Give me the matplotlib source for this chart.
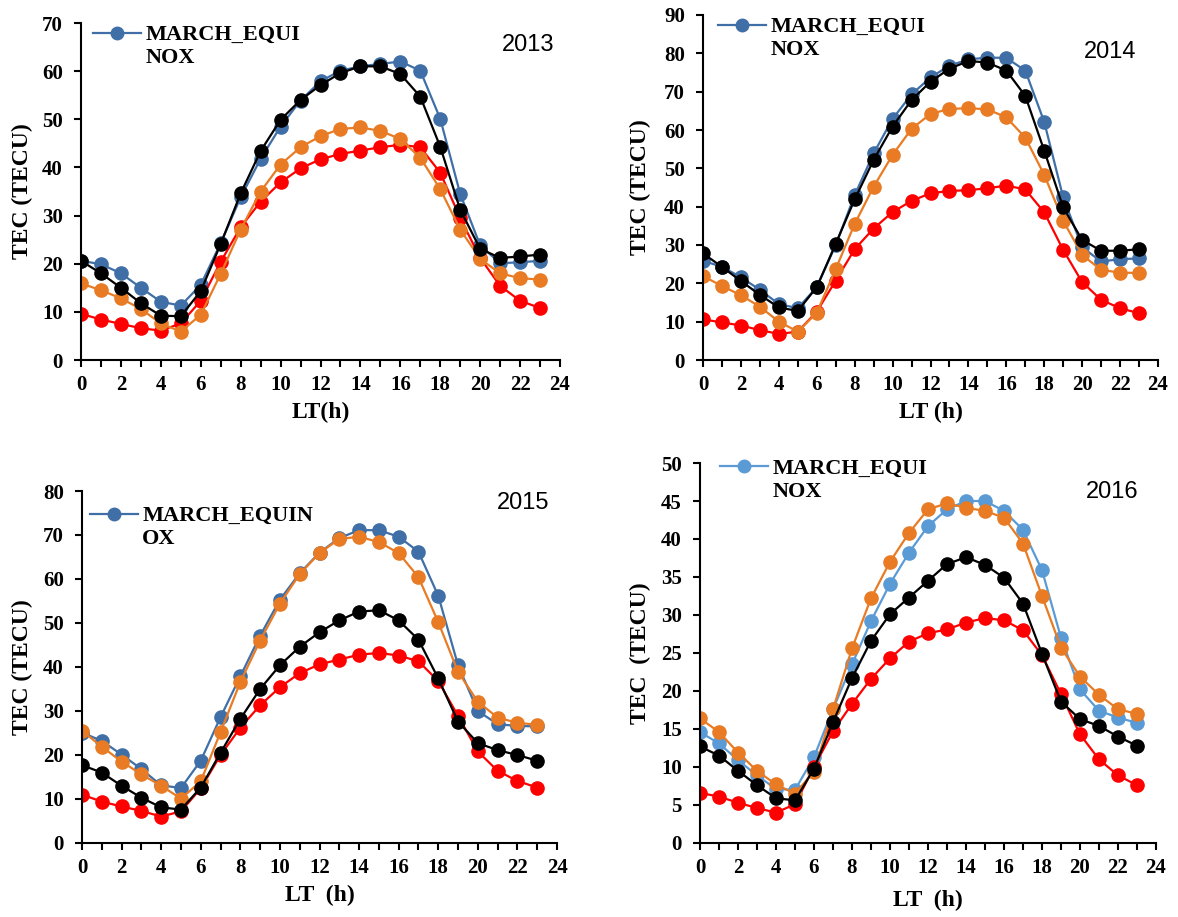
import matplotlib
matplotlib.use("Agg")
import matplotlib.pyplot as plt
from matplotlib.ticker import MultipleLocator

hours = list(range(24))

# 2013
blue_2013 = [20.6, 19.9, 18.0, 15.0, 12.1, 11.3, 15.6, 24.3, 33.8, 41.8, 48.5, 53.9,
             57.9, 60.1, 61.0, 61.5, 62.0, 60.1, 50.1, 34.5, 23.8, 20.1, 20.3, 20.6]
red_2013 = [9.6, 8.4, 7.5, 6.6, 6.1, 7.6, 12.3, 20.4, 27.6, 32.9, 36.9, 39.8,
            41.7, 42.8, 43.5, 44.2, 44.7, 44.2, 38.9, 29.5, 21.2, 15.4, 12.3, 10.8]
orange_2013 = [15.9, 14.5, 12.8, 10.6, 7.6, 5.9, 9.4, 17.9, 27.1, 35.0, 40.6, 44.2,
               46.5, 48.0, 48.3, 47.6, 45.9, 42.0, 35.5, 27.1, 21.0, 18.0, 17.0, 16.7]
black_2013 = [20.6, 18.0, 15.0, 11.8, 9.2, 9.1, 14.3, 24.1, 34.6, 43.4, 49.9, 54.0,
              57.1, 59.6, 61.0, 61.0, 59.4, 54.7, 44.3, 31.2, 23.1, 21.2, 21.5, 21.9]

# 2014
blue_2014 = [25.9, 24.3, 21.6, 18.3, 14.6, 13.5, 19.0, 30.0, 43.0, 53.9, 62.9, 69.3,
             73.7, 76.8, 78.4, 78.9, 78.8, 75.5, 62.1, 42.4, 29.4, 25.7, 26.3, 26.5]
red_2014 = [10.6, 9.8, 9.0, 7.8, 6.8, 7.4, 12.6, 20.7, 28.9, 34.3, 38.6, 41.5,
            43.5, 44.1, 44.3, 44.8, 45.5, 44.5, 38.5, 28.7, 20.3, 15.7, 13.5, 12.2]
orange_2014 = [21.9, 19.3, 16.9, 13.9, 10.0, 7.4, 12.3, 23.7, 35.5, 45.2, 53.5, 60.3,
               64.2, 65.5, 65.7, 65.4, 63.3, 58.0, 48.3, 36.3, 27.4, 23.5, 22.8, 22.7]
black_2014 = [27.8, 24.3, 20.6, 17.0, 13.7, 12.8, 19.0, 30.3, 41.9, 52.2, 60.9, 67.8,
              72.6, 76.0, 78.0, 77.6, 75.5, 68.9, 54.6, 39.8, 31.3, 28.5, 28.5, 28.9]

# 2015
blue_2015 = [25.1, 23.2, 20.1, 16.8, 13.1, 12.5, 18.7, 28.6, 37.9, 47.1, 55.3, 61.3,
             66.0, 69.3, 71.1, 71.1, 69.6, 66.2, 56.2, 40.4, 30.0, 27.0, 26.6, 26.5]
red_2015 = [11.0, 9.4, 8.3, 7.3, 6.0, 7.2, 12.4, 20.0, 26.2, 31.3, 35.4, 38.6,
            40.6, 41.7, 42.8, 43.2, 42.6, 41.3, 36.8, 28.9, 20.8, 16.4, 14.1, 12.6]
orange_2015 = [25.5, 21.9, 18.5, 15.6, 13.0, 10.1, 14.0, 25.2, 36.6, 46.0, 54.4, 61.1,
               65.9, 69.1, 69.6, 68.4, 65.9, 60.4, 50.2, 38.9, 32.1, 28.5, 27.3, 26.9]
black_2015 = [17.7, 16.0, 13.0, 10.3, 8.1, 7.6, 12.6, 20.5, 28.2, 35.0, 40.4, 44.6,
              47.9, 50.6, 52.6, 52.9, 50.6, 46.2, 37.4, 27.6, 22.7, 21.1, 20.0, 18.7]

# 2016
blue_2016 = [14.6, 13.1, 10.9, 8.9, 7.1, 7.0, 11.3, 17.6, 23.5, 29.2, 34.1, 38.2,
             41.7, 43.9, 45.0, 45.0, 43.7, 41.2, 35.9, 27.0, 20.2, 17.4, 16.5, 15.8]
red_2016 = [6.6, 6.1, 5.3, 4.6, 4.0, 5.1, 10.0, 14.7, 18.3, 21.6, 24.3, 26.5,
            27.6, 28.1, 29.0, 29.6, 29.3, 28.0, 24.7, 19.6, 14.3, 11.0, 8.9, 7.6]
orange_2016 = [16.4, 14.6, 11.9, 9.5, 7.7, 6.5, 9.4, 17.6, 25.6, 32.2, 37.0, 40.8,
               43.9, 44.7, 44.1, 43.7, 42.8, 39.4, 32.5, 25.7, 21.9, 19.5, 17.6, 17.0]
black_2016 = [12.7, 11.5, 9.5, 7.6, 5.9, 5.6, 9.8, 15.9, 21.7, 26.6, 30.1, 32.3,
              34.5, 36.7, 37.6, 36.6, 34.9, 31.5, 24.9, 18.6, 16.3, 15.4, 14.0, 12.8]

years = ["2013", "2014", "2015", "2016"]
legend_labels = ["MARCH_EQUI\nNOX", "MARCH_EQUI\nNOX", "MARCH_EQUIN\nOX", "MARCH_EQUI\nNOX"]
xlabels = ["LT(h)", "LT (h)", "LT  (h)", "LT  (h)"]
ylabels = ["TEC (TECU)", "TEC (TECU)", "TEC (TECU)", "TEC  (TECU)"]
ymax = [70, 90, 80, 50]
ystep = [10, 10, 10, 5]

series = [
    (blue_2013, red_2013, orange_2013, black_2013),
    (blue_2014, red_2014, orange_2014, black_2014),
    (blue_2015, red_2015, orange_2015, black_2015),
    (blue_2016, red_2016, orange_2016, black_2016),
]

blue_cols = ["#3F6FA6", "#3F6FA6", "#3F6FA6", "#5B9BD5"]
RED = "#FF0000"
ORANGE = "#E87B24"
BLACK = "#000000"

W, H = 1178, 917
rects = [
    (81, 560, 23, 360),
    (703, 1158, 15, 360),
    (82, 557, 491, 843),
    (700, 1156, 463, 843),
]
year_pos = [(528, 45), (1110, 52), (523, 503), (1112, 492)]
leg_pos = [(93, 35), (718, 27), (90, 516), (720, 469)]
ylab_x = [22, 640, 22, 640]
xlab_y = [412, 412, 895, 900]

serif = "Liberation Serif"
LEGFS = 16

fig = plt.figure(figsize=(W / 100, H / 100), dpi=100)

for i in range(4):
    l, r, t, b = rects[i]
    ax = fig.add_axes([l / W, 1 - b / H, (r - l) / W, (b - t) / H])
    blue, red, orange, black = series[i]
    kw = dict(marker="o", markersize=9.5, linewidth=1.6)
    hb, = ax.plot(hours, blue, color=blue_cols[i], **kw)
    ax.plot(hours, red, color=RED, **kw)
    ax.plot(hours, orange, color=ORANGE, **kw)
    ax.plot(hours, black, color=BLACK, **kw)

    ax.set_xlim(0, 24)
    ax.set_ylim(0, ymax[i])
    ax.xaxis.set_major_locator(MultipleLocator(2))
    ax.xaxis.set_minor_locator(MultipleLocator(1))
    ax.yaxis.set_major_locator(MultipleLocator(ystep[i]))
    for s in ["top", "right"]:
        ax.spines[s].set_visible(False)
    for s in ["left", "bottom"]:
        ax.spines[s].set_linewidth(1.5)
    ax.tick_params(axis="both", which="both", direction="out", width=1.5, length=5)
    ax.tick_params(axis="x", which="major", pad=6)
    ax.tick_params(axis="y", which="major", pad=8)
    for lab in ax.get_xticklabels() + ax.get_yticklabels():
        lab.set_fontfamily(serif)
        lab.set_fontweight("bold")
        lab.set_fontsize(15)

    fig.text(ylab_x[i] / W, 1 - ((t + b) / 2) / H, ylabels[i], rotation=90,
             ha="center", va="center", fontfamily=serif, fontweight="bold", fontsize=17)
    fig.text(((l + r) / 2) / W, 1 - xlab_y[i] / H, xlabels[i], ha="center", va="center",
             fontfamily=serif, fontweight="bold", fontsize=17)

    yx, yy = year_pos[i]
    fig.text(yx / W, 1 - yy / H, years[i], ha="center", va="center",
             fontfamily="Liberation Sans", fontsize=17)

    lx, ly = leg_pos[i]
    line1, line2 = legend_labels[i].split("\n")
    fs_px = LEGFS * 100 / 72
    hl, tp = 2.15, 0.2
    leg = ax.legend([hb], [line1], loc="center left",
                    bbox_to_anchor=(lx / W, 1 - ly / H), bbox_transform=fig.transFigure,
                    frameon=False, handlelength=hl, handletextpad=tp, borderpad=0,
                    borderaxespad=0, prop=dict(family=serif, weight="bold", size=LEGFS))
    leg.legend_handles[0].set_markersize(9)
    fig.text((lx + (hl + tp) * fs_px) / W, 1 - (ly + 23) / H, line2, ha="left", va="center",
             fontfamily=serif, fontweight="bold", fontsize=LEGFS)

fig.savefig("out.png", dpi=100)
